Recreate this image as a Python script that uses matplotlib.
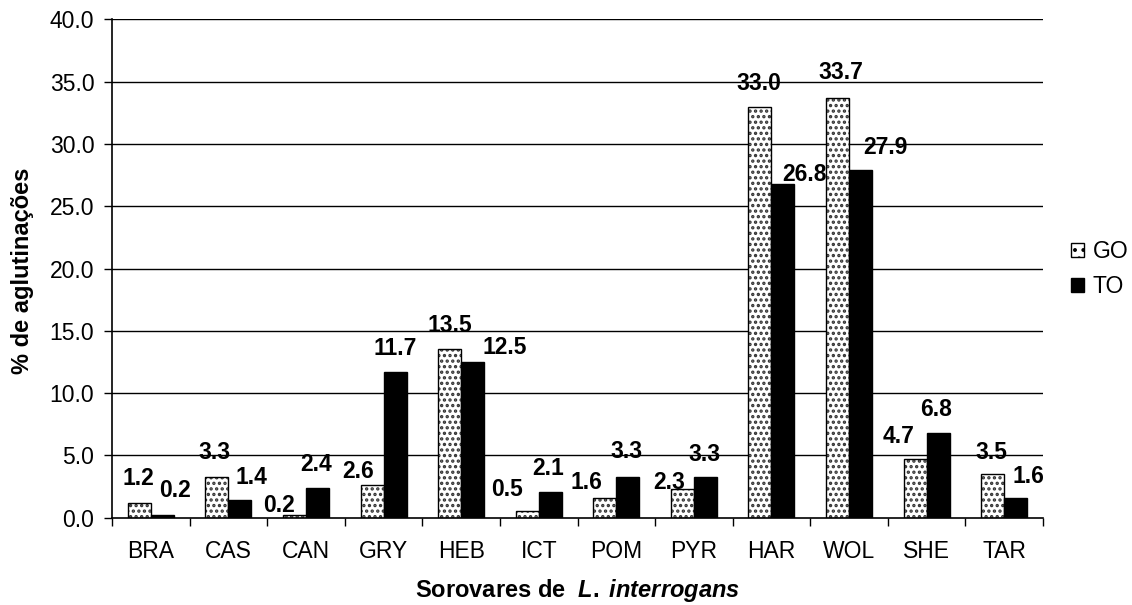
import matplotlib
matplotlib.use("Agg")
import matplotlib.pyplot as plt
from matplotlib.patches import Patch
import numpy as np

plt.rcParams['font.family'] = ['Liberation Sans', 'DejaVu Sans']
plt.rcParams['hatch.linewidth'] = 1.6
plt.rcParams['mathtext.fontset'] = 'custom'
plt.rcParams['mathtext.it'] = 'Liberation Sans:bold:italic'
plt.rcParams['mathtext.rm'] = 'Liberation Sans:bold'

categories = ["BRA", "CAS", "CAN", "GRY", "HEB", "ICT", "POM", "PYR", "HAR", "WOL", "SHE", "TAR"]
go_values = [1.2, 3.3, 0.2, 2.6, 13.5, 0.5, 1.6, 2.3, 33.0, 33.7, 4.7, 3.5]
to_values = [0.2, 1.4, 2.4, 11.7, 12.5, 2.1, 3.3, 3.3, 26.8, 27.9, 6.8, 1.6]
series_names = ["GO", "TO"]
yticks = [0, 5, 10, 15, 20, 25, 30, 35, 40]

# label offsets (pixels) relative to bar top centre
go_label_dx = [-1, -2, -15, -14, 0, -20, -18, -13, -1, 3, -17, -1]
go_label_dy = [24, 24, 10, 14, 24, 22, 15, 7, 23, 25, 23, 22]
to_label_dx = [13, 12, -1, 0, 32, -2, -1, -1, 22, 25, -2, 13]
to_label_dy = [25, 23, 23, 23, 14, 23, 25, 22, 9, 23, 23, 21]

fig = plt.figure(figsize=(11.32, 6.05), dpi=100)
ax = fig.add_axes([112/1132, 1-517.7/605, (1043-112)/1132, (517.7-19.3)/605])

x = np.arange(len(categories))
w = 0.296

# GO bars: dotted fill + black outline
ax.bar(x - w/2, go_values, w, facecolor='white', edgecolor='#333333', hatch='...',
       linewidth=0, zorder=3)
ax.bar(x - w/2, go_values, w, facecolor='none', edgecolor='black', linewidth=1.0, zorder=4)
ax.bar(x + w/2, to_values, w, facecolor='black', edgecolor='black', linewidth=1.0, zorder=3)

fs = 16.5
for i in range(len(categories)):
    ax.annotate(f"{go_values[i]:.1f}", (x[i] - w/2, go_values[i]),
                xytext=(go_label_dx[i], go_label_dy[i]), textcoords='offset pixels',
                ha='center', va='center', fontsize=fs, fontweight='bold', zorder=6)
    ax.annotate(f"{to_values[i]:.1f}", (x[i] + w/2, to_values[i]),
                xytext=(to_label_dx[i], to_label_dy[i]), textcoords='offset pixels',
                ha='center', va='center', fontsize=fs, fontweight='bold', zorder=6)

ax.set_xlim(-0.5, len(categories) - 0.5)
ax.set_ylim(0, 40)
ax.set_yticks(yticks)
ax.set_yticklabels([f"{v:.1f}" for v in yticks], fontsize=fs)
for v in yticks[1:]:
    ax.axhline(v, color='black', linewidth=1.0, zorder=1)

ax.set_xticks(x)
ax.set_xticklabels(categories, fontsize=fs)
ax.set_xticks(np.arange(-0.5, len(categories)), minor=True)
ax.tick_params(axis='x', which='major', length=0, pad=16)
ax.tick_params(axis='x', which='minor', length=5.5, width=1.0, direction='out')
ax.tick_params(axis='y', which='major', length=5.7, width=1.0, direction='out', pad=7)

for s in ['top', 'right']:
    ax.spines[s].set_visible(False)
for s in ['left', 'bottom']:
    ax.spines[s].set_linewidth(1.2)
    ax.spines[s].set_zorder(5)

ax.set_ylabel("% de aglutinações", fontsize=17, fontweight='bold', va='center')
ax.set_xlabel(r"Sorovares de  $\mathit{L.\;interrogans}$", fontsize=17,
              fontweight='bold', va='center')
ax.xaxis.set_label_coords(0.5, -(591 - 517.7) / 498.4)
ax.yaxis.set_label_coords(-(112 - 23) / 931, 0.495)

handles = [Patch(facecolor='white', edgecolor='black', hatch='..', linewidth=1.0),
           Patch(facecolor='black', edgecolor='black', linewidth=1.0)]
fig.legend(handles, series_names, loc='center left', bbox_to_anchor=(1071/1132, 1-269/605),
           frameon=False, fontsize=fs, handlelength=0.55, handleheight=0.55,
           handletextpad=0.4, labelspacing=0.5, borderpad=0, borderaxespad=0)

fig.savefig("out.png", dpi=100)
